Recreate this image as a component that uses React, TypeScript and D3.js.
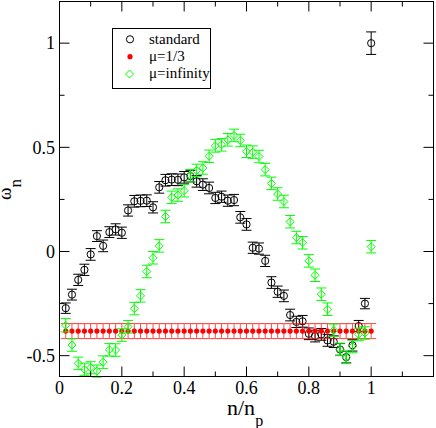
import React from 'react';
import * as d3 from 'd3';

// n / n_p positions of the measurements
const nValues = [
  0.02, 0.04, 0.06, 0.08, 0.1, 0.12, 0.14, 0.16, 0.18, 0.2,
  0.22, 0.24, 0.26, 0.28, 0.3, 0.32, 0.34, 0.36, 0.38, 0.4,
  0.42, 0.44, 0.46, 0.48, 0.5, 0.52, 0.54, 0.56, 0.58, 0.6,
  0.62, 0.64, 0.66, 0.68, 0.7, 0.72, 0.74, 0.76, 0.78, 0.8,
  0.82, 0.84, 0.86, 0.88, 0.9, 0.92, 0.94, 0.96, 0.98, 1.0
];

const standardValues = [
  -0.272, -0.207, -0.136, -0.088, -0.014, 0.074, 0.027, 0.093, 0.106, 0.09,
  0.197, 0.241, 0.243, 0.244, 0.212, 0.308, 0.342, 0.345, 0.344, 0.356,
  0.362, 0.337, 0.321, 0.305, 0.257, 0.263, 0.244, 0.247, 0.164, 0.13,
  0.018, 0.014, -0.045, -0.149, -0.193, -0.213, -0.305, -0.338, -0.335, -0.395,
  -0.406, -0.398, -0.427, -0.433, -0.47, -0.507, -0.45, -0.358, -0.25, 1.0
];
const standardErrors = [
  0.025, 0.026, 0.027, 0.027, 0.028, 0.026, 0.028, 0.026, 0.027, 0.027,
  0.027, 0.028, 0.028, 0.028, 0.027, 0.028, 0.028, 0.028, 0.028, 0.028,
  0.028, 0.028, 0.028, 0.028, 0.027, 0.027, 0.027, 0.027, 0.028, 0.028,
  0.027, 0.027, 0.027, 0.028, 0.027, 0.028, 0.028, 0.027, 0.028, 0.028,
  0.028, 0.028, 0.028, 0.028, 0.028, 0.028, 0.028, 0.027, 0.025, 0.054
];

const mu13Values = [
  -0.382, -0.382, -0.382, -0.382, -0.382, -0.382, -0.382, -0.382, -0.382, -0.382,
  -0.382, -0.382, -0.382, -0.382, -0.382, -0.382, -0.382, -0.382, -0.382, -0.382,
  -0.382, -0.382, -0.382, -0.382, -0.382, -0.382, -0.382, -0.382, -0.382, -0.382,
  -0.382, -0.382, -0.382, -0.382, -0.382, -0.382, -0.382, -0.382, -0.382, -0.382,
  -0.382, -0.382, -0.382, -0.382, -0.382, -0.382, -0.382, -0.382, -0.382, -0.382
];
const mu13Errors = [
  0.036, 0.036, 0.036, 0.036, 0.036, 0.036, 0.036, 0.036, 0.036, 0.036,
  0.036, 0.036, 0.036, 0.036, 0.036, 0.036, 0.036, 0.036, 0.036, 0.036,
  0.036, 0.036, 0.036, 0.036, 0.036, 0.036, 0.036, 0.036, 0.036, 0.036,
  0.036, 0.036, 0.036, 0.036, 0.036, 0.036, 0.036, 0.036, 0.036, 0.036,
  0.036, 0.036, 0.036, 0.036, 0.036, 0.036, 0.036, 0.036, 0.036, 0.036
];

const muInfValues = [
  -0.354, -0.449, -0.537, -0.565, -0.558, -0.574, -0.531, -0.472, -0.473, -0.401,
  -0.361, -0.274, -0.213, -0.096, -0.03, 0.027, 0.168, 0.26, 0.271, 0.292,
  0.364, 0.389, 0.401, 0.457, 0.507, 0.512, 0.536, 0.557, 0.533, 0.481,
  0.477, 0.456, 0.393, 0.327, 0.276, 0.24, 0.143, 0.067, 0.042, -0.045,
  -0.114, -0.205, -0.277, -0.378, -0.47, -0.508, -0.456, -0.398, -0.391, 0.023
];
const muInfErrors = [
  0.032, 0.03, 0.03, 0.029, 0.029, 0.029, 0.03, 0.03, 0.03, 0.03,
  0.03, 0.03, 0.03, 0.03, 0.03, 0.03, 0.03, 0.03, 0.03, 0.03,
  0.03, 0.03, 0.03, 0.03, 0.03, 0.03, 0.03, 0.03, 0.03, 0.03,
  0.03, 0.03, 0.03, 0.03, 0.03, 0.03, 0.03, 0.03, 0.03, 0.03,
  0.03, 0.03, 0.03, 0.03, 0.03, 0.03, 0.03, 0.03, 0.03, 0.03
];

const xMajorTicks = [0, 0.2, 0.4, 0.6, 0.8, 1.0];
const xTickLabels = ['0', '0.2', '0.4', '0.6', '0.8', '1'];
const xMinorTicks = [0.1, 0.3, 0.5, 0.7, 0.9, 1.1];
const yMajorTicks = [-0.5, 0, 0.5, 1];
const yTickLabels = ['-0.5', '0', '0.5', '1'];
const yMinorTicks = [-0.25, 0.25, 0.75];

const legendLabels = ['standard', 'μ=1/3', 'μ=infinity'];

const W = 436;
const H = 428;
const left = 59.5, right = 433.5, top = 1.5, bottom = 376.5;
const serif = { fontFamily: 'Liberation Serif' };

const xScale = d3.scaleLinear().domain([0, 1.2]).range([left, right]);
const yScale = d3.scaleLinear().domain([-0.6, 1.2]).range([bottom, top]);

function ErrorBars({ values, errors, color, cap, opacity }) {
  return (
    <g stroke={color} strokeWidth={1} opacity={opacity} fill="none">
      {values.map((v, i) => {
        const cx = xScale(nValues[i]);
        const y0 = yScale(v - errors[i]);
        const y1 = yScale(v + errors[i]);
        return (
          <g key={i}>
            <line x1={cx} x2={cx} y1={y0} y2={y1} />
            <line x1={cx - cap} x2={cx + cap} y1={y0} y2={y0} />
            <line x1={cx - cap} x2={cx + cap} y1={y1} y2={y1} />
          </g>
        );
      })}
    </g>
  );
}

const diamond = (cx, cy, r) => `M${cx},${cy - r}L${cx + r},${cy}L${cx},${cy + r}L${cx - r},${cy}Z`;

export default function App() {
  return (
    <svg width={W} height={H} style={{ position: 'absolute', left: 0, top: 0, background: '#fff' }}>
      <rect x={0} y={0} width={W} height={H} fill="#fff" />

      {/* standard */}
      <ErrorBars values={standardValues} errors={standardErrors} color="#000" cap={5} opacity={1} />
      <g stroke="#000" fill="none" strokeWidth={1}>
        {standardValues.map((v, i) => (
          <circle key={i} cx={xScale(nValues[i])} cy={yScale(v)} r={3.6} />
        ))}
      </g>

      {/* mu = 1/3 */}
      <ErrorBars values={mu13Values} errors={mu13Errors} color="#ff0000" cap={5} opacity={0.7} />
      <g fill="#ff0000">
        {mu13Values.map((v, i) => (
          <circle key={i} cx={xScale(nValues[i])} cy={yScale(v)} r={2.6} />
        ))}
      </g>

      {/* mu = infinity */}
      <ErrorBars values={muInfValues} errors={muInfErrors} color="#00ff00" cap={5} opacity={1} />
      <g stroke="#00ff00" fill="none" strokeWidth={1}>
        {muInfValues.map((v, i) => (
          <path key={i} d={diamond(xScale(nValues[i]), yScale(v), 4)} />
        ))}
      </g>

      {/* frame */}
      <rect x={left} y={top} width={right - left} height={bottom - top} fill="none" stroke="#000" strokeWidth={1} />

      {/* ticks */}
      <g stroke="#000" strokeWidth={1}>
        {xMajorTicks.map((t) => (
          <g key={'xm' + t}>
            <line x1={xScale(t)} x2={xScale(t)} y1={bottom} y2={bottom - 10} />
            <line x1={xScale(t)} x2={xScale(t)} y1={top} y2={top + 10} />
          </g>
        ))}
        {xMinorTicks.map((t) => (
          <g key={'xn' + t}>
            <line x1={xScale(t)} x2={xScale(t)} y1={bottom} y2={bottom - 5} />
            <line x1={xScale(t)} x2={xScale(t)} y1={top} y2={top + 5} />
          </g>
        ))}
        {yMajorTicks.map((t) => (
          <g key={'ym' + t}>
            <line x1={left} x2={left + 10} y1={yScale(t)} y2={yScale(t)} />
            <line x1={right} x2={right - 10} y1={yScale(t)} y2={yScale(t)} />
          </g>
        ))}
        {yMinorTicks.map((t) => (
          <g key={'yn' + t}>
            <line x1={left} x2={left + 5} y1={yScale(t)} y2={yScale(t)} />
            <line x1={right} x2={right - 5} y1={yScale(t)} y2={yScale(t)} />
          </g>
        ))}
      </g>

      {/* tick labels */}
      {xMajorTicks.map((t, i) => (
        <text key={'xl' + t} x={xScale(t)} y={393.5} textAnchor="middle" fontSize={18} style={serif}>{xTickLabels[i]}</text>
      ))}
      {yMajorTicks.map((t, i) => (
        <text key={'yl' + t} x={55} y={yScale(t) + 6.3} textAnchor="end" fontSize={18} style={serif}>{yTickLabels[i]}</text>
      ))}

      {/* axis labels */}
      <text x={227} y={415} fontSize={22} style={serif}>
        n/n<tspan fontSize={16} dy={11}>p</tspan>
      </text>
      <text transform="translate(10.5,200) rotate(-90)" fontSize={19} style={serif}>
        ω<tspan fontSize={17} dy={10.5}>n</tspan>
      </text>

      {/* legend */}
      <rect x={112.5} y={28.5} width={98} height={60} fill="#fff" stroke="#000" strokeWidth={1} />
      <circle cx={130} cy={39.3} r={3.6} fill="none" stroke="#000" />
      <circle cx={130} cy={56.7} r={2.6} fill="#ff0000" />
      <path d={diamond(129.5, 74, 4)} fill="none" stroke="#00ff00" />
      <text x={149} y={44} fontSize={15} style={serif}>{legendLabels[0]}</text>
      <text x={149} y={61} fontSize={15} style={serif}>{legendLabels[1]}</text>
      <text x={149} y={78} fontSize={15} style={serif}>{legendLabels[2]}</text>
    </svg>
  );
}
